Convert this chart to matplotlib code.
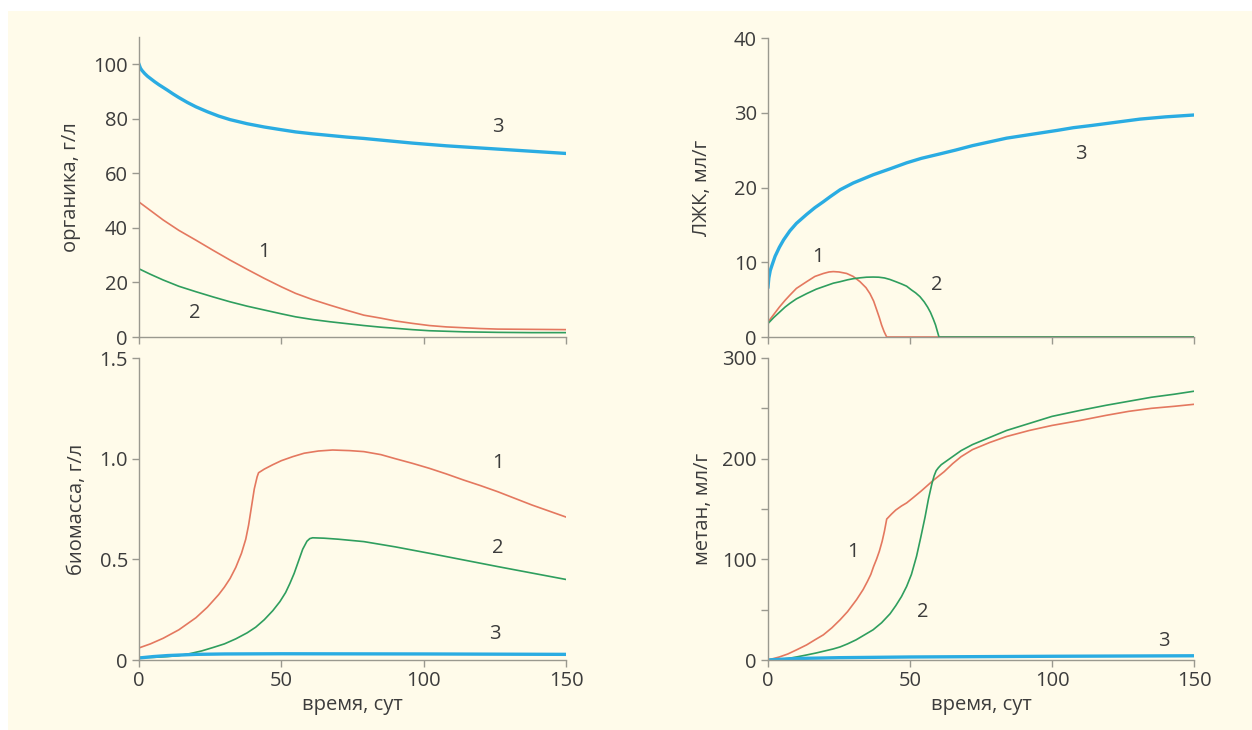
import numpy as np
import matplotlib
matplotlib.use('Agg')
import matplotlib.pyplot as plt
from matplotlib.patches import Rectangle

plt.rcParams['font.family'] = ['Open Sans', 'DejaVu Sans']

# --- data ---
# органика, г/л
t_org = [0, 4, 8.5, 14, 20, 26, 32, 38, 44, 50, 55, 61, 67, 73, 79, 85, 90, 96,
         102, 108, 114, 120, 126, 138, 150]
org1 = [49.5, 46.4, 42.9, 39.1, 35.5, 31.8, 28.2, 24.8, 21.5, 18.4, 16, 13.7, 11.7,
        9.8, 8, 6.9, 5.9, 5.0, 4.2, 3.7, 3.4, 3.1, 2.9, 2.8, 2.7]
org2 = [25, 23, 20.9, 18.6, 16.6, 14.7, 12.9, 11.3, 9.9, 8.5, 7.4, 6.4, 5.6, 4.9,
        4.2, 3.6, 3.2, 2.7, 2.3, 2.1, 1.9, 1.8, 1.7, 1.6, 1.6]
t_org3 = [0, 0.5, 1, 2, 3, 4, 5.5, 7, 8.5, 10, 12, 14, 17, 20, 24, 28, 32, 38, 44,
          50, 55, 61, 67, 73, 79, 85, 90, 96, 102, 108, 114, 120, 126, 132, 138,
          144, 150]
org3 = [100, 98.6, 97.8, 96.6, 95.6, 94.8, 93.6, 92.5, 91.5, 90.5, 89.1, 87.8, 86.0,
        84.4, 82.6, 81.0, 79.7, 78.2, 77.0, 76.0, 75.2, 74.5, 73.9, 73.3, 72.8,
        72.2, 71.7, 71.1, 70.6, 70.1, 69.7, 69.3, 68.9, 68.5, 68.1, 67.7, 67.3]

# биомасса, г/л
t_bio1 = [0, 4, 8.5, 14, 20, 24, 28, 30, 32, 34, 36, 37.5, 38.5, 39.5, 40.5, 41.5,
          42, 44, 47, 50, 54, 58, 63, 68, 74, 79, 85, 90, 96, 102, 108, 114, 120,
          126, 132, 138, 144, 150]
bio1 = [0.06, 0.08, 0.108, 0.15, 0.21, 0.262, 0.325, 0.362, 0.405, 0.46, 0.53, 0.60,
        0.67, 0.76, 0.85, 0.91, 0.93, 0.948, 0.97, 0.99, 1.01, 1.027, 1.038, 1.043,
        1.04, 1.035, 1.02, 1.0, 0.977, 0.952, 0.924, 0.894, 0.866, 0.836, 0.803,
        0.77, 0.74, 0.71]
t_bio2 = [0, 5, 10, 14, 18, 22, 26, 30, 34, 38, 41, 44, 47, 49.5, 51.5, 53, 54.5,
          56, 57.5, 59, 60, 61, 65, 70, 79, 90, 102, 114, 126, 138, 150]
bio2 = [0.012, 0.013, 0.017, 0.022, 0.032, 0.045, 0.062, 0.08, 0.105, 0.135, 0.163,
        0.2, 0.245, 0.29, 0.335, 0.38, 0.43, 0.49, 0.55, 0.59, 0.603, 0.607, 0.605,
        0.60, 0.588, 0.562, 0.53, 0.497, 0.464, 0.432, 0.40]
t_bio3 = [0, 5, 10, 15, 20, 30, 50, 100, 150]
bio3 = [0.01, 0.017, 0.022, 0.025, 0.028, 0.030, 0.031, 0.03, 0.028]

# ЛЖК, мл/г
t_vfa1 = [0, 2, 4, 6, 7.7, 10, 13.6, 16.5, 19.5, 21.5, 23, 25, 27.7, 30, 32.4,
          34.5, 35.9, 37.2, 38.3, 39.2, 40, 40.9, 41.8, 150]
vfa1 = [2.0, 3.0, 4.0, 4.9, 5.6, 6.5, 7.4, 8.1, 8.5, 8.7, 8.75, 8.7, 8.5, 8.1, 7.4,
        6.6, 5.8, 4.8, 3.6, 2.6, 1.6, 0.7, 0, 0]
t_vfa2 = [0, 2, 4, 6, 7.7, 10, 13.6, 17, 20, 23, 25.4, 28, 30, 32.5, 34.7, 37, 39,
          41, 42.9, 45, 47, 48.8, 50.5, 52, 53.5, 55, 56.2, 57.2, 58.2, 59, 59.6,
          60.2, 150]
vfa2 = [1.8, 2.6, 3.3, 4.0, 4.5, 5.1, 5.8, 6.4, 6.8, 7.2, 7.4, 7.65, 7.8, 7.92, 8.0,
        8.02, 8.0, 7.9, 7.7, 7.4, 7.1, 6.8, 6.3, 5.9, 5.4, 4.7, 4.0, 3.3, 2.4, 1.6,
        0.8, 0, 0]
t_vfa3 = [0, 0.3, 0.8, 1.5, 2.5, 4, 5.5, 7.7, 10, 13.6, 16.5, 19.5, 22, 25.4, 30,
          37, 43, 48.8, 54, 60.6, 66, 72, 78, 84, 90, 96, 102, 107.5, 114, 120, 126,
          131, 140, 150]
vfa3 = [6.7, 7.9, 8.9, 9.7, 10.8, 12.0, 13.0, 14.2, 15.2, 16.4, 17.3, 18.1, 18.8,
        19.7, 20.6, 21.7, 22.5, 23.3, 23.9, 24.5, 25.0, 25.6, 26.1, 26.6, 26.95,
        27.3, 27.65, 28.0, 28.3, 28.6, 28.9, 29.15, 29.45, 29.7]

# метан, мл/г
t_met1 = [0, 4, 7, 10, 13.6, 16.5, 19.5, 22.5, 25.4, 28, 31.2, 33.5, 35, 36.2, 37.2,
          38.2, 39.2, 40.2, 41, 41.8, 43.5, 45, 47, 48.8, 51, 54, 58, 62, 65, 68, 72,
          78, 84, 92, 100, 110, 119, 127, 135, 143, 150]
met1 = [0, 3, 6, 10, 15, 20, 25, 32, 40, 48, 60, 70, 78, 85, 93, 100, 108, 118, 128,
        140, 145, 149, 153, 156, 161, 168, 178, 187, 195, 202, 209, 216, 222, 228,
        233, 238, 243, 247, 250, 252, 254]
t_met2 = [0, 4, 7, 10, 13.6, 17, 20, 23, 25.4, 28, 31, 34, 37, 40, 43, 45, 47, 48.8,
          50.5, 52.3, 53.8, 55.3, 56.5, 57.7, 58.5, 59.2, 60, 61, 63, 65, 68, 72, 78,
          84, 92, 100, 110, 119, 127, 135, 143, 150]
met2 = [0, 0.7, 1.5, 3, 5, 7, 9, 11, 13, 16, 20, 25, 30, 37, 46, 54, 63, 73, 85, 103,
        122, 142, 160, 175, 183, 188, 191, 194, 198, 202, 208, 214, 221, 228, 235,
        242, 248, 253, 257, 261, 264, 267]
t_met3 = [0, 5, 10, 25, 50, 100, 150]
met3 = [0, 0.8, 1.5, 2.3, 3, 3.7, 4.2]

RED = '#e4785f'
GREEN = '#2f9e5e'
BLUE = '#2aace2'
AXC = '#9a998f'
TXT = '#3c3c3c'
BG = '#fffbea'

fig = plt.figure(figsize=(12.52, 7.30), dpi=100)
fig.patch.set_facecolor('white')
fig.patches.append(Rectangle((8 / 1252, 0), 1 - 8 / 1252, 1 - 11 / 730,
                             transform=fig.transFigure, facecolor=BG,
                             edgecolor='none', zorder=-10))

W, H = 1252, 730
def add_ax(x0, x1, ytop, ybot):
    return fig.add_axes([x0 / W, (H - ybot) / H, (x1 - x0) / W, (ybot - ytop) / H])

ax_org = add_ax(139, 566, 37, 337)
ax_bio = add_ax(139, 566, 358, 660)
ax_vfa = add_ax(768, 1194, 38, 337)
ax_met = add_ax(768, 1194, 358, 660)

for ax in (ax_org, ax_bio, ax_vfa, ax_met):
    ax.set_facecolor('none')
    for s in ('top', 'right'):
        ax.spines[s].set_visible(False)
    for s in ('left', 'bottom'):
        ax.spines[s].set_color(AXC)
        ax.spines[s].set_linewidth(1.0)
    ax.tick_params(colors=AXC, labelcolor=TXT, labelsize=14.5, length=5, width=1,
                   direction='out', pad=3)
    ax.tick_params(which='minor', colors=AXC, length=5, width=1)
    ax.set_xlim(0, 150)
    ax.set_xticks([0, 50, 100, 150])

lw_thin = 1.2
lw_blue = 2.4

ax_org.plot(t_org, org1, color=RED, lw=lw_thin)
ax_org.plot(t_org, org2, color=GREEN, lw=lw_thin)
ax_org.plot(t_org3, org3, color=BLUE, lw=lw_blue)
ax_org.set_ylim(0, 110)
ax_org.set_yticks([0, 20, 40, 60, 80, 100])
ax_org.tick_params(axis='x', labelbottom=False)
ax_org.set_ylabel('органика, г/л', fontsize=14.5, color=TXT, labelpad=9)

ax_bio.plot(t_bio1, bio1, color=RED, lw=lw_thin)
ax_bio.plot(t_bio2, bio2, color=GREEN, lw=lw_thin)
ax_bio.plot(t_bio3, bio3, color=BLUE, lw=lw_blue)
ax_bio.set_ylim(0, 1.5)
ax_bio.set_yticks([0, 0.5, 1.0, 1.5])
ax_bio.set_yticklabels(['0', '0.5', '1.0', '1.5'])
ax_bio.set_ylabel('биомасса, г/л', fontsize=14.5, color=TXT, labelpad=9)
ax_bio.set_xlabel('время, сут', fontsize=14.5, color=TXT, labelpad=3)

ax_vfa.plot(t_vfa1, vfa1, color=RED, lw=lw_thin)
ax_vfa.plot(t_vfa2, vfa2, color=GREEN, lw=lw_thin)
ax_vfa.plot(t_vfa3, vfa3, color=BLUE, lw=lw_blue)
ax_vfa.set_ylim(0, 40)
ax_vfa.set_yticks([0, 10, 20, 30, 40])
ax_vfa.tick_params(axis='x', labelbottom=False)
ax_vfa.set_ylabel('ЛЖК, мл/г', fontsize=14.5, color=TXT, labelpad=16)

ax_met.plot(t_met1, met1, color=RED, lw=lw_thin)
ax_met.plot(t_met2, met2, color=GREEN, lw=lw_thin)
ax_met.plot(t_met3, met3, color=BLUE, lw=lw_blue)
ax_met.set_ylim(0, 300)
ax_met.set_yticks([0, 100, 200, 300])
ax_met.set_yticks([50, 150, 250], minor=True)
ax_met.set_ylabel('метан, мл/г', fontsize=14.5, color=TXT, labelpad=7)
ax_met.set_xlabel('время, сут', fontsize=14.5, color=TXT, labelpad=3)

# curve numbers
lab = dict(fontsize=14.5, color=TXT, ha='center', va='center')
ax_org.text(44, 31, '1', **lab)
ax_org.text(19.7, 8.8, '2', **lab)
ax_org.text(126, 77, '3', **lab)
ax_bio.text(126, 0.98, '1', **lab)
ax_bio.text(126, 0.556, '2', **lab)
ax_bio.text(125, 0.13, '3', **lab)
ax_vfa.text(17.6, 10.7, '1', **lab)
ax_vfa.text(59.5, 7, '2', **lab)
ax_vfa.text(110, 24.5, '3', **lab)
ax_met.text(30, 107, '1', **lab)
ax_met.text(54.6, 48, '2', **lab)
ax_met.text(139.5, 19, '3', **lab)

fig.savefig('out.png', dpi=100, facecolor=fig.get_facecolor())
